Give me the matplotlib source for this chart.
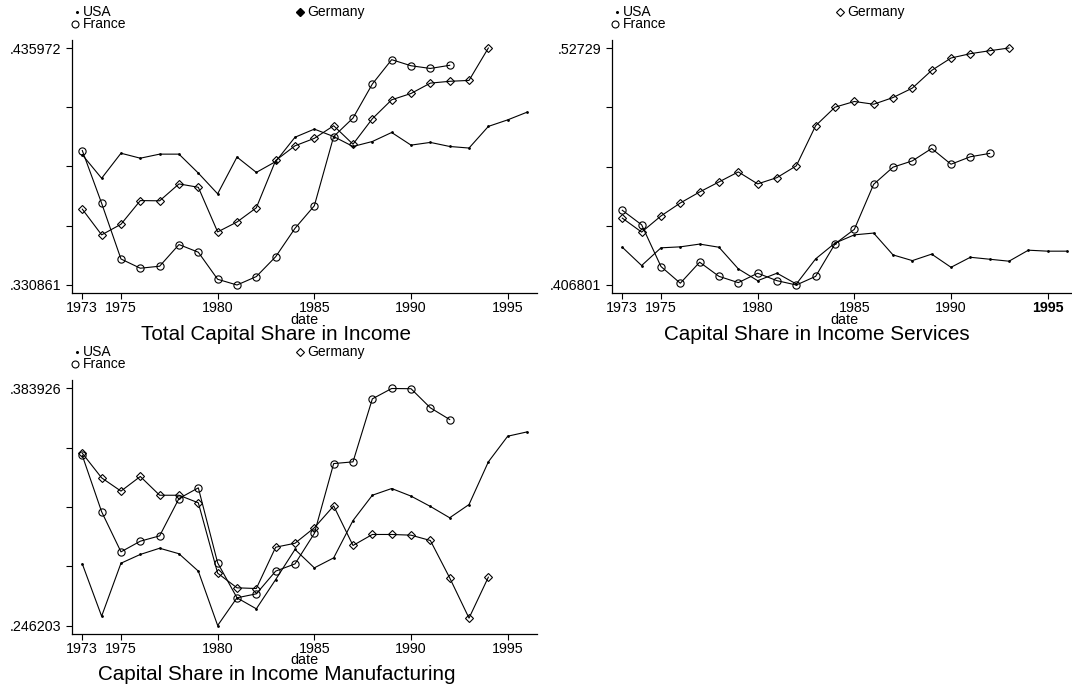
import matplotlib
matplotlib.use('Agg')
import matplotlib.pyplot as plt
import numpy as np

plt.rcParams['font.family'] = ['Liberation Sans', 'DejaVu Sans']

# ---------------- data ----------------
years_usa = [1973, 1974, 1975, 1976, 1977, 1978, 1979, 1980, 1981, 1982, 1983, 1984,
             1985, 1986, 1987, 1988, 1989, 1990, 1991, 1992, 1993, 1994, 1995, 1996]
years_france = [1973, 1974, 1975, 1976, 1977, 1978, 1979, 1980, 1981, 1982, 1983, 1984,
                1985, 1986, 1987, 1988, 1989, 1990, 1991, 1992]
years_ger_total = [1973, 1974, 1975, 1976, 1977, 1978, 1979, 1980, 1981, 1982, 1983, 1984,
                   1985, 1986, 1987, 1988, 1989, 1990, 1991, 1992, 1993, 1994]
years_ger_serv = [1973, 1974, 1975, 1976, 1977, 1978, 1979, 1980, 1981, 1982, 1983, 1984,
                  1985, 1986, 1987, 1988, 1989, 1990, 1991, 1992, 1993]
years_ger_manuf = years_ger_total

total_usa = [0.3886, 0.3782, 0.3893, 0.3871, 0.3889, 0.3889, 0.3805, 0.3713, 0.3876, 0.3808,
             0.3856, 0.3964, 0.4000, 0.3967, 0.3923, 0.3945, 0.3985, 0.3929, 0.3941, 0.3923,
             0.3916, 0.4012, 0.4041, 0.4075]
total_france = [0.3905, 0.3671, 0.3424, 0.3383, 0.3392, 0.3488, 0.3454, 0.3334, 0.330861, 0.3346,
                0.3434, 0.3560, 0.3660, 0.3967, 0.4049, 0.4200, 0.4308, 0.4281, 0.4269, 0.4283]
total_germany = [0.3645, 0.3531, 0.3578, 0.3683, 0.3682, 0.3757, 0.3742, 0.3544, 0.3588, 0.3651,
                 0.3861, 0.3926, 0.3959, 0.4015, 0.3933, 0.4046, 0.4130, 0.4158, 0.4204, 0.4212,
                 0.4216, 0.435972]

serv_usa = [0.4260, 0.4167, 0.4257, 0.4262, 0.4276, 0.4260, 0.4150, 0.4090, 0.4128, 0.4073,
            0.4201, 0.4281, 0.4323, 0.4332, 0.4221, 0.4192, 0.4225, 0.4158, 0.4209, 0.4199,
            0.4189, 0.4245, 0.4240, 0.4240]
serv_france = [0.4448, 0.4374, 0.4162, 0.4077, 0.4184, 0.4112, 0.4080, 0.4128, 0.4090, 0.406801,
               0.4112, 0.4277, 0.4351, 0.4580, 0.4667, 0.4699, 0.4762, 0.4682, 0.4720, 0.4737]
serv_germany = [0.4408, 0.4337, 0.4419, 0.4485, 0.4541, 0.4592, 0.4643, 0.4582, 0.4614, 0.4674,
                0.4878, 0.4972, 0.5001, 0.4987, 0.5021, 0.5069, 0.5159, 0.5222, 0.5244, 0.5259,
                0.52729]

manuf_usa = [0.2820, 0.2516, 0.2824, 0.2875, 0.2911, 0.2879, 0.2778, 0.246203, 0.2623, 0.2559,
             0.2729, 0.2904, 0.2797, 0.2855, 0.3072, 0.3219, 0.3258, 0.3214, 0.3154, 0.3088,
             0.3165, 0.3413, 0.3562, 0.3587]
manuf_france = [0.3450, 0.3123, 0.2890, 0.2952, 0.2983, 0.3200, 0.3262, 0.2826, 0.2623, 0.2646,
                0.2778, 0.2820, 0.2997, 0.3403, 0.3413, 0.3779, 0.383926, 0.3838, 0.3727, 0.3659]
manuf_germany = [0.3463, 0.3320, 0.3243, 0.3328, 0.3219, 0.3219, 0.3175, 0.2766, 0.2681, 0.2677,
                 0.2917, 0.2940, 0.3030, 0.3157, 0.2927, 0.2991, 0.2991, 0.2987, 0.2956, 0.2739,
                 0.2505, 0.2743]

xtick_years = [1973, 1975, 1980, 1985, 1990, 1995]
titles = ["Total Capital Share in Income",
          "Capital Share in Income Services",
          "Capital Share in Income Manufacturing"]
legend_labels = ["USA", "France", "Germany"]
xlabel = "date"

# ---------------- layout ----------------
W, H = 1072, 686
fig = plt.figure(figsize=(W / 100, H / 100), dpi=100)

AXW, AXH = 465.3, 253.0
panels = [
    dict(left=71.7, bottom=293.0, usa=total_usa, fra=total_france, ger=total_germany,
         ger_years=years_ger_total, title=titles[0], filled_leg=True, bold95=False),
    dict(left=611.7, bottom=293.0, usa=serv_usa, fra=serv_france, ger=serv_germany,
         ger_years=years_ger_serv, title=titles[1], filled_leg=False, bold95=True),
    dict(left=71.7, bottom=633.5, usa=manuf_usa, fra=manuf_france, ger=manuf_germany,
         ger_years=years_ger_manuf, title=titles[2], filled_leg=False, bold95=False),
]

px_per_year = 19.336
x0_off = 10.6  # px between y axis and 1973


def fmt(v):
    return ('%.6f' % v).rstrip('0').lstrip('0')


lw = 0.8
for p in panels:
    ax = fig.add_axes([p['left'] / W, (H - p['bottom']) / H, AXW / W, AXH / H])
    ax.plot(years_usa, p['usa'], color='black', lw=lw, marker='o', ms=1.0,
            mfc='black', mec='black')
    ax.plot(years_france, p['fra'], color='black', lw=lw, marker='o', ms=5.2,
            mfc='none', mec='black', mew=0.8)
    ax.plot(p['ger_years'], p['ger'], color='black', lw=lw, marker='D', ms=3.6,
            mfc='none', mec='black', mew=0.8)

    allv = p['usa'] + p['fra'] + p['ger']
    vmin, vmax = min(allv), max(allv)
    rng = vmax - vmin
    m = 8.0 / 237.0 * rng
    ax.set_ylim(vmin - m, vmax + m)
    ax.set_xlim(1973 - x0_off / px_per_year, 1973 + (AXW - x0_off) / px_per_year)

    yt = np.linspace(vmin, vmax, 5)
    ax.set_yticks(yt)
    ax.set_yticklabels([fmt(vmin), '', '', '', fmt(vmax)])
    ax.set_xticks(xtick_years)
    ax.set_xticklabels([str(y) for y in xtick_years])
    if p['bold95']:
        ax.get_xticklabels()[-1].set_fontweight('bold')

    for s in ['top', 'right']:
        ax.spines[s].set_visible(False)
    for s in ['left', 'bottom']:
        ax.spines[s].set_linewidth(0.9)
    ax.tick_params(axis='both', direction='out', length=4.3, width=0.8,
                   labelsize=10.3, colors='black')
    ax.tick_params(axis='x', pad=1.5)
    ax.tick_params(axis='y', pad=3.0)

    # x label "date" and title, positioned in pixels below the axis line
    ax.annotate(xlabel, xy=(0.5, 0), xycoords='axes fraction',
                xytext=(0, -31), textcoords='offset pixels',
                ha='center', va='baseline', fontsize=10.4)
    ax.annotate(p['title'], xy=(0.5, 0), xycoords='axes fraction',
                xytext=(-28, -47), textcoords='offset pixels',
                ha='center', va='baseline', fontsize=14.9)

    # legend (manual, Stata-style two columns)
    def pos(dx, dy):
        return (dx / AXW, 1 + dy / AXH)

    ax.plot(*pos(5, 28), marker='o', ms=1.2, color='black', transform=ax.transAxes,
            clip_on=False)
    ax.plot(*pos(3, 16), marker='o', ms=5.0, mfc='none', mec='black', mew=0.8,
            transform=ax.transAxes, clip_on=False)
    if p['filled_leg']:
        ax.plot(*pos(228, 28), marker='D', ms=4.3, mfc='black', mec='black',
                transform=ax.transAxes, clip_on=False)
    else:
        ax.plot(*pos(228, 28), marker='D', ms=4.3, mfc='none', mec='black', mew=0.8,
                transform=ax.transAxes, clip_on=False)
    ax.text(*pos(11.3, 28), legend_labels[0], transform=ax.transAxes,
            ha='left', va='center', fontsize=10.0)
    ax.text(*pos(11.3, 16), legend_labels[1], transform=ax.transAxes,
            ha='left', va='center', fontsize=10.0)
    ax.text(*pos(235.5, 28), legend_labels[2], transform=ax.transAxes,
            ha='left', va='center', fontsize=10.0)

fig.savefig('out.png', dpi=100)
